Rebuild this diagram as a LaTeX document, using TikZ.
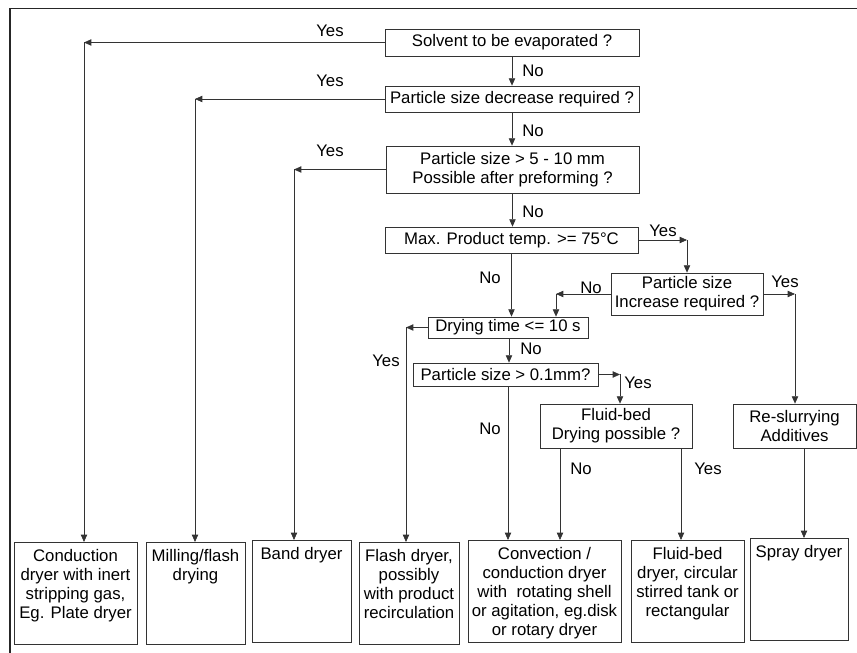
\documentclass[tikz,border=0pt]{standalone}
\usepackage{fontspec}
\setmainfont{Liberation Sans}
\usetikzlibrary{arrows.meta,positioning}

% text at the top of a result box
\newcommand{\toptext}[2]{\parbox[c][3.06cm][t]{#1}{\centering\vspace*{0.2cm}#2}}

\begin{document}
\begin{tikzpicture}[x=0.03cm, y=-0.03cm,
    font=\fontsize{14.3}{16.2}\selectfont,
    box/.style={draw=black!80, line width=0.6pt, inner sep=0pt, align=center},
    outbox/.style={draw=black!80, line width=0.6pt, inner sep=0pt, anchor=north},
    arr/.style={draw=black!80, line width=0.6pt, -{Triangle[length=0.22cm,width=0.19cm]}},
    lbl/.style={inner sep=0pt}]
    \useasboundingbox (0,0) rectangle (857,653);
    \draw[line width=1.2pt, black!85] (10,653) -- (10,8.5) -- (857,8.5);

    % questions
    \node[box, minimum width=7.62cm, minimum height=0.81cm] (solv) at (512,42.5) {Solvent to be evaporated ?};
    \node[box, minimum width=7.62cm, minimum height=0.78cm] (decr) at (512,99) {Particle size decrease required ?};
    \node[box, minimum width=7.59cm, minimum height=1.41cm] (pref) at (512.5,169.5) {Particle size > 5 - 10 mm\\Possible after preforming ?};
    \node[box, minimum width=7.59cm, minimum height=0.78cm] (temp) at (511.5,240) {Max. Product temp. >= 75°C};
    \node[box, minimum width=4.56cm, minimum height=1.26cm] (incr) at (687,294) {Particle size\\Increase required ?};
    \node[box, minimum width=4.8cm, minimum height=0.63cm] (dtime) at (508,327.5) {Drying time <= 10 s};
    \node[box, minimum width=5.55cm, minimum height=0.69cm] (psize) at (505.5,374.5) {Particle size > 0.1mm?};
    \node[box, minimum width=4.56cm, minimum height=1.32cm] (fbed) at (616,426) {Fluid-bed\\Drying possible ?};
    \node[box, minimum width=3.69cm, minimum height=1.32cm] (slurry) at (794.5,426) {Re-slurrying\\Additives};

    % dryers
    \node[outbox] (cond) at (75.5,542) {\toptext{3.69cm}{Conduction\\dryer with inert\\stripping gas,\\Eg. Plate dryer}};
    \node[outbox] (mill) at (195.5,542) {\toptext{2.97cm}{Milling/flash\\drying}};
    \node[outbox] (band) at (301.5,540) {\toptext{2.97cm}{Band dryer}};
    \node[outbox] (flash) at (409,542) {\toptext{3.0cm}{Flash dryer,\\possibly\\with product\\recirculation}};
    \node[outbox] (conv) at (544.5,540) {\toptext{4.59cm}{Convection /\\conduction dryer\\with~ rotating shell\\or agitation, eg.disk\\or rotary dryer}};
    \node[outbox] (fbdry) at (687.5,540) {\toptext{3.39cm}{Fluid-bed\\dryer, circular\\stirred tank or\\rectangular}};
    \node[outbox] (spray) at (799,538) {\toptext{2.94cm}{Spray dryer}};

    % main column
    \foreach \a/\b in {solv/decr, decr/pref, pref/temp, temp/dtime}
        \draw[arr] (\a.south) -- (\a.south |- \b.north);

    % yes to the left
    \foreach \n/\x/\t in {solv/84/cond, decr/195/mill, pref/294/band, dtime/406/flash}
    {
        \draw[arr] (\n.west) -- (\n.west -| \x,0);
        \draw[arr] (\n.west -| \x,0) -- (\t.north -| \x,0);
    }

    \draw[arr] (temp.east) -- (temp.east -| incr.north);
    \draw[arr] (temp.east -| incr.north) -- (incr.north);
    \draw[arr] (incr.west) -- (incr.west -| 556,0);
    \draw[arr] (incr.west -| 556,0) -- (dtime.north -| 556,0);
    \draw[arr] (incr.east) -- (incr.east -| 795,0);
    \draw[arr] (incr.east -| 795,0) -- (slurry.north -| 795,0);
    \draw[arr] (dtime.south -| 509,0) -- (psize.north -| 509,0);
    \draw[arr] (psize.east) -- (psize.east -| 620,0);
    \draw[arr] (psize.east -| 620,0) -- (fbed.north -| 620,0);
    \draw[arr] (psize.south -| 508,0) -- (conv.north -| 508,0);
    \draw[arr] (fbed.south -| 560,0) -- (conv.north -| 560,0);
    \draw[arr] (fbed.south -| 681,0) -- (fbdry.north -| 681,0);
    \draw[arr] (slurry.south -| 804,0) -- (spray.north -| 804,0);

    % labels
    \node[lbl] (y1) at (330,31) {Yes};
    \node[lbl] (y2) at (330,81) {Yes};
    \node[lbl] (y3) at (330,151) {Yes};
    \node[lbl] (y4) at (663,231) {Yes};
    \node[lbl] (y5) at (785,282) {Yes};
    \node[lbl] (y6) at (386,361) {Yes};
    \node[lbl] (y7) at (638,383) {Yes};
    \node[lbl] (y8) at (708,469) {Yes};
    \node[lbl] (n1) at (533,71) {No};
    \node[lbl] (n2) at (533,131) {No};
    \node[lbl] (n3) at (533,212) {No};
    \node[lbl] (n4) at (490,278) {No};
    \node[lbl] (n5) at (591,288) {No};
    \node[lbl] (n6) at (531,349) {No};
    \node[lbl] (n7) at (490,429) {No};
    \node[lbl] (n8) at (581,469) {No};
\end{tikzpicture}
\end{document}
